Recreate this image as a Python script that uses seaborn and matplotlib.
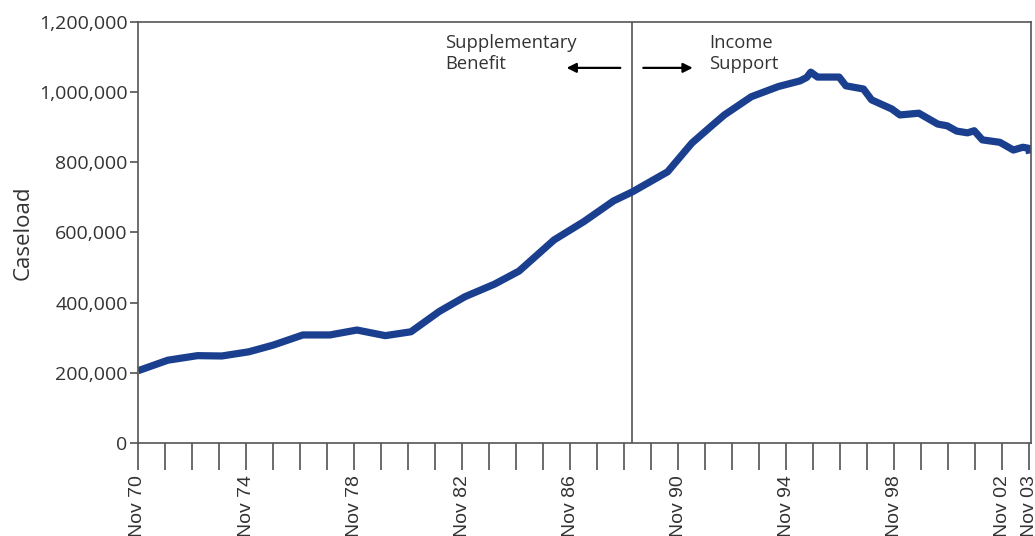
import matplotlib
matplotlib.use("Agg")
import matplotlib.pyplot as plt
import seaborn as sns
import pandas as pd
import numpy as np

# Decimal year of each reading (Nov 70 = 1970.875)
years = [1970.88, 1971.98, 1973.08, 1973.98, 1974.98, 1975.88, 1976.98, 1977.98,
         1978.98, 1980.03, 1980.98, 1982.03, 1982.98, 1984.08, 1984.98, 1986.28,
         1987.38, 1988.48, 1989.18, 1990.48, 1991.38, 1992.08, 1992.58, 1993.58,
         1994.58, 1995.38, 1995.63, 1995.78, 1996.03, 1996.83, 1997.08, 1997.73,
         1998.03, 1998.78, 1999.08, 1999.78, 2000.48, 2000.83, 2001.18, 2001.58,
         2001.83, 2002.13, 2002.78, 2003.28, 2003.63, 2003.84, 2003.88]
caseload = [206000, 236000, 249000, 248000, 260000, 279000, 308000, 308000,
            322000, 306000, 317000, 375000, 417000, 453000, 490000, 579000,
            631000, 690000, 716000, 773000, 855000, 902000, 935000, 987000,
            1016000, 1032000, 1042000, 1057000, 1043000, 1043000, 1018000, 1009000,
            978000, 952000, 935000, 940000, 909000, 904000, 889000, 884000,
            890000, 864000, 857000, 835000, 843000, 840000, 825000]

tick_years = [1970.875 + k for k in range(34)]
label_map = {0: "Nov 70", 4: "Nov 74", 8: "Nov 78", 12: "Nov 82", 16: "Nov 86",
             20: "Nov 90", 24: "Nov 94", 28: "Nov 98", 32: "Nov 02", 33: "Nov 03"}
tick_labels = [label_map.get(k, "") for k in range(34)]

y_ticks = [0, 200000, 400000, 600000, 800000, 1000000, 1200000]
y_labels = ["0", "200,000", "400,000", "600,000", "800,000", "1,000,000", "1,200,000"]

switch_year = 1989.18
left_label = "Supplementary\nBenefit"
right_label = "Income\nSupport"

sns.set_style("ticks")
plt.rcParams['font.family'] = ['Open Sans', 'DejaVu Sans']

df = pd.DataFrame({"year": years, "caseload": caseload})

fig = plt.figure(figsize=(10.35, 5.36), dpi=100)
ax = fig.add_axes([0.1333, 0.1735, 0.8628, 0.7855])

sns.lineplot(data=df, x="year", y="caseload", ax=ax, color="#1b3f8f",
             linewidth=5.2, solid_joinstyle="round", solid_capstyle="butt")

ax.axvline(switch_year, color="#444444", linewidth=1.1, zorder=1)

ax.set_xlim(1970.875, 2003.93)
ax.set_ylim(0, 1200000)

ax.set_xticks(tick_years)
ax.set_xticklabels(tick_labels, rotation=90, fontsize=14,
                   family=['Liberation Sans', 'DejaVu Sans'], color="#333333")
ax.set_yticks(y_ticks)
ax.set_yticklabels(y_labels, fontsize=14, color="#333333")

ax.tick_params(axis="x", direction="out", length=19.5, width=1.1, color="#444444", pad=3.5)
ax.tick_params(axis="y", direction="out", length=6, width=1.1, color="#444444", pad=1.5)

for s in ax.spines.values():
    s.set_visible(True)
    s.set_color("#555555")
    s.set_linewidth(1.2)

ax.set_xlabel("")
ax.set_ylabel("Caseload", fontsize=16, color="#333333", labelpad=4)

tr = ax.get_xaxis_transform()
ax.text(1982.25, 0.972, left_label, transform=tr, ha="left", va="top",
        fontsize=13.2, color="#333333", linespacing=1.2)
ax.text(1992.02, 0.972, right_label, transform=tr, ha="left", va="top",
        fontsize=13.2, color="#333333", linespacing=1.2)
ax.annotate("", xy=(1986.74, 0.891), xytext=(1988.73, 0.891), xycoords=tr, textcoords=tr,
            arrowprops=dict(arrowstyle="-|>", color="black", lw=1.6, mutation_scale=14,
                            shrinkA=0, shrinkB=0))
ax.annotate("", xy=(1991.41, 0.891), xytext=(1989.58, 0.891), xycoords=tr, textcoords=tr,
            arrowprops=dict(arrowstyle="-|>", color="black", lw=1.6, mutation_scale=14,
                            shrinkA=0, shrinkB=0))

fig.savefig("out.png", dpi=100)
